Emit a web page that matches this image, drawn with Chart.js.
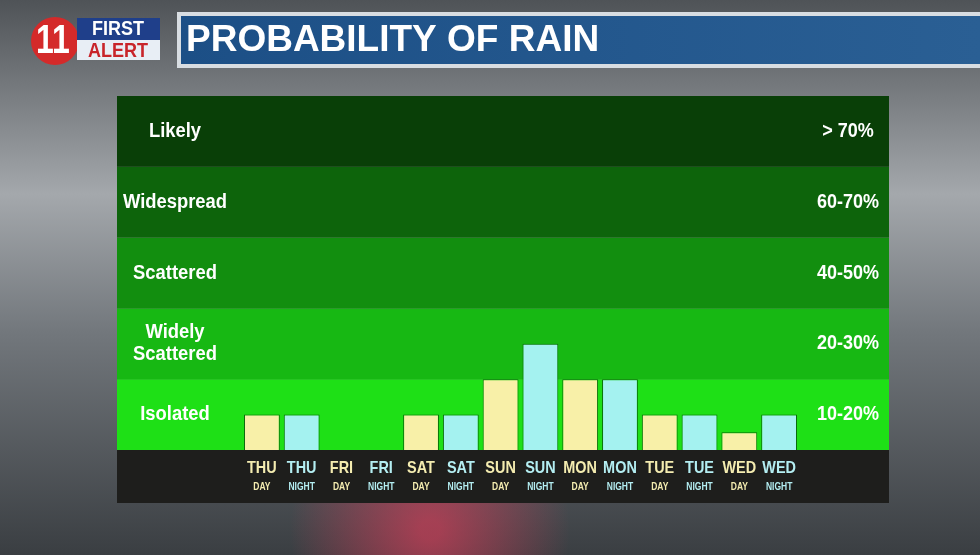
<!DOCTYPE html>
<html>
<head>
<meta charset="utf-8">
<script src="https://cdn.jsdelivr.net/npm/chart.js@4"></script>
<style>
  html, body { margin: 0; padding: 0; background: #6d7276; }
  #wrap { width: 980px; height: 555px; position: relative; }
</style>
</head>
<body>
<div id="wrap"><canvas id="rain" width="980" height="555"></canvas></div>
<script>
// Data
const days = ['THU', 'THU', 'FRI', 'FRI', 'SAT', 'SAT', 'SUN', 'SUN', 'MON', 'MON', 'TUE', 'TUE', 'WED', 'WED'];
const periods = ['DAY', 'NIGHT', 'DAY', 'NIGHT', 'DAY', 'NIGHT', 'DAY', 'NIGHT', 'DAY', 'NIGHT', 'DAY', 'NIGHT', 'DAY', 'NIGHT'];
// chance of rain in percent (one band = 20 units on the board)
const rainChance = [10, 10, 0, 0, 10, 10, 20, 30, 20, 20, 10, 10, 5, 10];
const bandNames = ['Isolated', 'Widely\nScattered', 'Scattered', 'Widespread', 'Likely'];
const bandRanges = ['10-20%', '20-30%', '40-50%', '60-70%', '> 70%'];
const bandColors = ['#1ee016', '#17b813', '#128e0f', '#0d640b', '#093f07'];

const dayColor = '#f8f0a8';
const nightColor = '#a4f2f0';
const FONT = "'Liberation Sans', 'DejaVu Sans', sans-serif";

const BOARD_L = 117, BOARD_R = 889;

// squeezed text, the board uses a condensed face
function narrowText(ctx, txt, x, y, size, squeeze, align) {
  ctx.save();
  ctx.font = 'bold ' + size + 'px ' + FONT;
  ctx.textAlign = align || 'center';
  ctx.textBaseline = 'middle';
  ctx.translate(x, y);
  ctx.scale(squeeze, 1);
  ctx.fillText(txt, 0, 0);
  ctx.restore();
}

const boardPlugin = {
  id: 'board',
  beforeDraw(chart) {
    const { ctx, chartArea } = chart;
    const y = chart.scales.y;
    ctx.save();
    // blurred photo-ish background
    const bg = ctx.createLinearGradient(0, 0, 0, 555);
    bg.addColorStop(0, '#4f5357');
    bg.addColorStop(0.35, '#a4a8ac');
    bg.addColorStop(0.6, '#72777c');
    bg.addColorStop(1, '#3a3e42');
    ctx.fillStyle = bg;
    ctx.fillRect(0, 0, 980, 555);
    const pink = ctx.createRadialGradient(430, 530, 10, 430, 530, 140);
    pink.addColorStop(0, 'rgba(230,60,90,0.6)');
    pink.addColorStop(1, 'rgba(230,60,90,0)');
    ctx.fillStyle = pink;
    ctx.fillRect(280, 440, 300, 115);

    // header bar
    ctx.fillStyle = '#d8dde2';
    ctx.fillRect(177, 12, 803, 56);
    const hb = ctx.createLinearGradient(180, 0, 980, 0);
    hb.addColorStop(0, '#1c4f86');
    hb.addColorStop(1, '#2a5f94');
    ctx.fillStyle = hb;
    ctx.fillRect(181, 16, 799, 48);
    ctx.fillStyle = '#ffffff';
    narrowText(ctx, 'PROBABILITY OF RAIN', 186, 41, 37, 1.0, 'left');

    // logo
    ctx.fillStyle = '#d42a2a';
    ctx.beginPath();
    ctx.arc(55, 41, 24, 0, Math.PI * 2);
    ctx.fill();
    ctx.fillStyle = '#ffffff';
    narrowText(ctx, '11', 53, 42, 40, 0.8);
    ctx.fillStyle = '#1f3f8a';
    ctx.fillRect(77, 18, 83, 22);
    ctx.fillStyle = '#e8eef5';
    ctx.fillRect(77, 40, 83, 20);
    ctx.fillStyle = '#ffffff';
    narrowText(ctx, 'FIRST', 118, 29, 20, 0.9);
    ctx.fillStyle = '#c8242a';
    narrowText(ctx, 'ALERT', 118, 51, 20, 0.9);

    // bands
    for (let i = 0; i < bandColors.length; i++) {
      const top = y.getPixelForValue((i + 1) * 20);
      const bot = y.getPixelForValue(i * 20);
      ctx.fillStyle = bandColors[i];
      ctx.fillRect(BOARD_L, top, BOARD_R - BOARD_L, bot - top);
      const mid = (top + bot) / 2;
      ctx.fillStyle = '#ffffff';
      const lines = bandNames[i].split('\n');
      lines.forEach((l, k) => narrowText(ctx, l, 175, mid + (k - (lines.length - 1) / 2) * 22, 20, 0.92));
      narrowText(ctx, bandRanges[i], 848, mid, 20, 0.9);
    }
    // label strip
    ctx.fillStyle = '#1e1e1c';
    ctx.fillRect(BOARD_L, chartArea.bottom, BOARD_R - BOARD_L, 53);
    ctx.restore();
  },
  afterDraw(chart) {
    const { ctx, chartArea } = chart;
    const x = chart.scales.x;
    days.forEach((d, i) => {
      const px = x.getPixelForValue(i);
      ctx.fillStyle = periods[i] === 'DAY' ? '#f4ecb0' : '#b4eef2';
      narrowText(ctx, d, px, chartArea.bottom + 18, 17, 0.85);
      narrowText(ctx, periods[i], px, chartArea.bottom + 37, 10, 0.85);
    });
  }
};

new Chart(document.getElementById('rain'), {
  type: 'bar',
  data: {
    labels: days.map((d, i) => d + ' ' + periods[i]),
    datasets: [{
      data: rainChance,
      backgroundColor: periods.map(p => p === 'DAY' ? dayColor : nightColor),
      borderColor: '#0a6a0a',
      borderWidth: 1,
      barPercentage: 0.9,
      categoryPercentage: 1.0
    }]
  },
  options: {
    responsive: false,
    animation: false,
    layout: { padding: { left: 242, right: 181, top: 96, bottom: 105 } },
    plugins: { legend: { display: false }, tooltip: { enabled: false } },
    scales: {
      y: { display: false, min: 0, max: 100 },
      x: { display: false }
    }
  },
  plugins: [boardPlugin]
});
</script>
</body>
</html>
